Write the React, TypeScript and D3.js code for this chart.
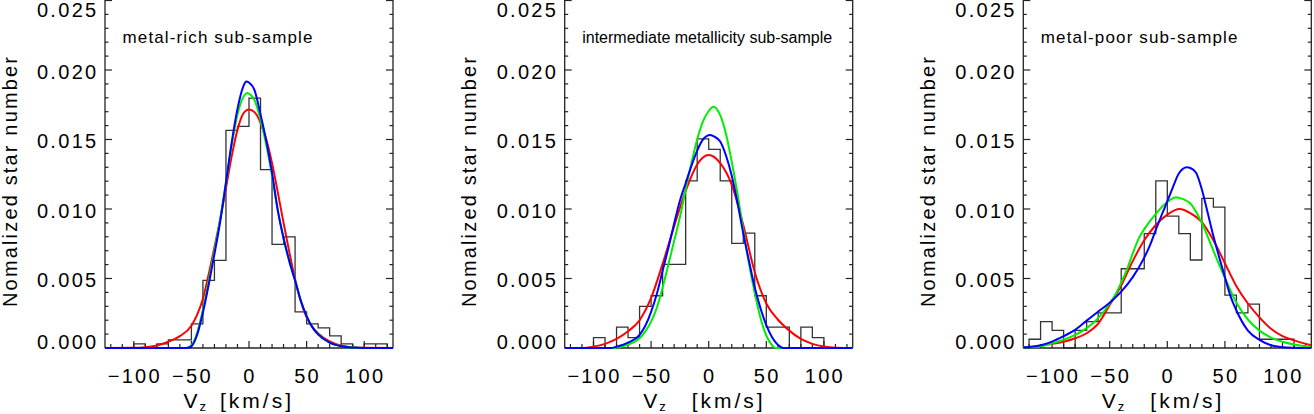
import React from 'react';
import * as d3 from 'd3';

// ---------- DATA (densities in units of 1e-3) ----------
const binWidth = 10;
const xDomain: [number, number] = [-125, 125];
const yMax = 0.025;
const xMajorTicks = [-100, -50, 0, 50, 100];
const xMinorStep = 10;
const yMajorTicks = [0, 0.005, 0.01, 0.015, 0.02, 0.025];
const yMinorStep = 0.001;

const titles = ['metal-rich sub-sample', 'intermediate metallicity sub-sample', 'metal-poor sub-sample'];
const yLabel = 'Nomalized star number';

const p1HistStart = -100;
const p1Hist = [0.29, 0, 0.29, 0.58, 0.58, 1.74, 4.87, 6.3, 15.66, 15.95, 17.97, 12.83, 7.45, 8.0, 2.6, 1.74, 1.45, 0.87, 0.29, 0, 0.29, 0.29];
const p2HistStart = -100;
const p2Hist = [0.75, 0, 1.5, 0.75, 3.0, 3.76, 6.02, 6.02, 12.03, 15.04, 14.29, 12.03, 7.52, 8.27, 3.76, 1.5, 1.5, 0, 1.5, 0.75];
const p3HistStart = -120;
const p3Hist = [0.63, 1.9, 1.27, 0, 1.27, 1.9, 2.53, 2.53, 5.7, 5.7, 8.23, 12.03, 9.49, 8.23, 6.33, 10.76, 10.13, 3.8, 2.53, 3.16, 0.63, 0.63, 0.63];

type Pt = [number, number];

const p1Red: Pt[] = [[-125, 0], [-100, 0.01], [-90, 0.05], [-80, 0.18], [-70, 0.45], [-60, 0.85], [-50, 1.6], [-45, 2.4], [-40, 3.55], [-35, 5.3], [-30, 7.25], [-25, 9.25], [-20, 11.5], [-15, 13.8], [-10, 15.7], [-5, 16.85], [0, 17.15], [5, 16.95], [10, 16.2], [15, 15.0], [20, 13.3], [25, 11.2], [30, 9.0], [35, 6.9], [40, 4.95], [45, 3.35], [50, 2.2], [55, 1.5], [60, 1.05], [70, 0.48], [80, 0.17], [90, 0.05], [100, 0.01], [125, 0]];
const p1Green: Pt[] = [[-125, 0], [-55, 0], [-50, 0.2], [-45, 1.1], [-40, 2.75], [-35, 4.8], [-30, 7.0], [-25, 9.3], [-20, 11.9], [-15, 14.6], [-10, 16.8], [-5, 18.05], [-1.5, 18.35], [0, 18.3], [5, 17.8], [10, 16.4], [15, 14.6], [20, 12.4], [25, 9.9], [30, 7.9], [35, 6.25], [40, 4.85], [45, 3.4], [50, 2.3], [55, 1.5], [60, 0.98], [70, 0.38], [80, 0.12], [90, 0.03], [100, 0], [125, 0]];
const p1Blue: Pt[] = [[-125, 0], [-54, 0], [-50, 0.12], [-45, 0.95], [-40, 2.55], [-35, 4.55], [-30, 6.75], [-25, 9.1], [-20, 11.9], [-15, 14.8], [-10, 17.2], [-5, 18.8], [-2.5, 19.18], [0, 19.1], [5, 18.5], [10, 16.8], [15, 14.9], [20, 12.6], [25, 9.9], [30, 7.9], [35, 6.25], [40, 4.85], [45, 3.4], [50, 2.3], [55, 1.5], [60, 0.98], [70, 0.38], [80, 0.12], [90, 0.03], [100, 0], [125, 0]];

const p2Red: Pt[] = [[-125, 0], [-110, 0], [-100, 0.1], [-90, 0.3], [-80, 0.65], [-70, 1.2], [-60, 2.0], [-50, 3.6], [-40, 6.05], [-30, 8.75], [-20, 11.3], [-10, 13.2], [0, 13.88], [10, 13.3], [20, 11.75], [30, 8.85], [40, 5.45], [50, 3.2], [60, 2.05], [70, 1.25], [80, 0.65], [90, 0.3], [100, 0.1], [110, 0.02], [125, 0]];
const p2Green: Pt[] = [[-125, 0], [-82, 0], [-80, 0.03], [-70, 0.25], [-60, 0.7], [-55, 1.2], [-50, 1.9], [-45, 2.9], [-40, 4.35], [-35, 6.0], [-30, 7.7], [-25, 9.4], [-20, 11.4], [-15, 13.3], [-10, 15.0], [-5, 16.3], [0, 17.05], [4.2, 17.36], [10, 16.75], [15, 15.4], [20, 13.4], [25, 11.1], [30, 8.5], [35, 6.05], [40, 3.95], [45, 2.15], [50, 0.9], [55, 0.2], [58, 0], [125, 0]];
const p2Blue: Pt[] = [[-125, 0], [-85, 0], [-80, 0.1], [-70, 0.38], [-60, 0.95], [-55, 1.6], [-50, 2.6], [-45, 3.9], [-40, 5.55], [-35, 7.2], [-30, 8.95], [-25, 10.6], [-20, 11.85], [-15, 13.1], [-10, 14.2], [-5, 15.0], [1.3, 15.32], [5, 15.2], [10, 14.85], [15, 13.85], [20, 12.4], [25, 10.45], [30, 8.25], [35, 6.25], [40, 4.35], [45, 2.85], [50, 1.65], [55, 0.78], [60, 0.24], [65, 0], [125, 0]];

const p3Red: Pt[] = [[-125, 0.05], [-110, 0.15], [-100, 0.3], [-90, 0.45], [-80, 0.7], [-70, 1.06], [-60, 1.75], [-50, 3.1], [-40, 4.5], [-30, 6.25], [-20, 7.75], [-10, 8.85], [0, 9.6], [10.7, 10.0], [20, 9.7], [30, 9.05], [40, 7.75], [50, 6.1], [60, 4.45], [70, 3.2], [80, 2.2], [90, 1.38], [100, 0.85], [110, 0.55], [125, 0.2]];
const p3Green: Pt[] = [[-125, 0.03], [-110, 0.12], [-100, 0.33], [-90, 0.6], [-80, 0.95], [-70, 1.43], [-60, 2.15], [-50, 3.2], [-45, 3.85], [-40, 4.7], [-35, 5.65], [-30, 6.8], [-25, 7.85], [-20, 8.55], [-10, 9.65], [0, 10.5], [7.9, 10.84], [10, 10.8], [20, 10.4], [30, 9.0], [40, 7.0], [50, 5.05], [60, 3.25], [70, 2.05], [80, 1.25], [90, 0.75], [100, 0.45], [110, 0.25], [125, 0.07]];
const p3Blue: Pt[] = [[-125, 0.04], [-120, 0.07], [-110, 0.2], [-100, 0.46], [-90, 0.85], [-80, 1.3], [-70, 1.97], [-60, 2.62], [-50, 3.26], [-40, 4.05], [-30, 5.1], [-20, 6.5], [-15, 7.4], [-10, 8.5], [-5, 9.55], [0, 10.55], [5, 11.6], [10, 12.55], [17, 13.0], [20, 12.95], [25, 12.6], [30, 11.4], [35, 9.75], [40, 8.05], [45, 6.55], [50, 5.1], [55, 3.7], [60, 2.7], [70, 1.25], [80, 0.58], [90, 0.2], [100, 0.06], [110, 0.02], [125, 0]];

const panelData = [
  { hist: p1Hist, histStart: p1HistStart, red: p1Red, green: p1Green, blue: p1Blue },
  { hist: p2Hist, histStart: p2HistStart, red: p2Red, green: p2Green, blue: p2Blue },
  { hist: p3Hist, histStart: p3HistStart, red: p3Red, green: p3Green, blue: p3Blue },
];

// ---------- LAYOUT ----------
const W = 1314;
const H = 414;
const PANEL_LEFT = [105, 564.7, 1023.3];
const PW = 288;
const TOP = 0.5;
const BOTTOM = 348;
const FONT = "'Liberation Sans', Arial, Helvetica, sans-serif";
const TITLE_LEN = [190, 250, 196.6];
const TITLE_SIZE = [17, 16, 17];
const XLABEL_BRACKET = [115, 127, 127];
const AXIS = '#222';

function Panel({ idx }: { idx: number }) {
  const d = panelData[idx];
  const left = PANEL_LEFT[idx];
  const right = left + PW;
  const x = d3.scaleLinear().domain(xDomain).range([left, right]);
  const y = d3.scaleLinear().domain([0, yMax]).range([BOTTOM, TOP]);
  const k = 1e-3;

  const stepPts: Pt[] = [];
  stepPts.push([d.histStart, 0]);
  d.hist.forEach((v, i) => {
    stepPts.push([d.histStart + i * binWidth, v * k]);
    stepPts.push([d.histStart + (i + 1) * binWidth, v * k]);
  });
  stepPts.push([d.histStart + d.hist.length * binWidth, 0]);
  const straight = d3.line<Pt>().x((p) => x(p[0])).y((p) => y(p[1]));
  const smooth = d3
    .line<Pt>()
    .x((p) => x(p[0]))
    .y((p) => y(p[1] * k))
    .curve(d3.curveMonotoneX);

  const yMinor = d3.range(0, yMax + 1e-9, yMinorStep);
  const xMinor = d3.range(-120, 121, xMinorStep);
  const clipId = `clip${idx}`;

  return (
    <g>
      <defs>
        <clipPath id={clipId}>
          <rect x={left} y={0} width={PW} height={BOTTOM + 1.5} />
        </clipPath>
      </defs>
      {/* title */}
      <text x={left + 17.5} y={43} fontFamily={FONT} fontSize={TITLE_SIZE[idx]} textLength={TITLE_LEN[idx]} lengthAdjust="spacing" fill="#000">
        {titles[idx]}
      </text>
      {/* histogram */}
      <path d={straight(stepPts) || ''} fill="none" stroke="#333" strokeWidth={1.3} clipPath={`url(#${clipId})`} />
      {/* frame */}
      <line x1={left} x2={left} y1={0} y2={BOTTOM} stroke={AXIS} strokeWidth={1.3} />
      <line x1={right} x2={right} y1={0} y2={BOTTOM} stroke={AXIS} strokeWidth={1.3} />
      <line x1={left} x2={right} y1={BOTTOM} y2={BOTTOM} stroke={AXIS} strokeWidth={1.3} />
      {yMinor.map((v, i) => {
        const major = i % 5 === 0;
        const len = major ? 7 : 3.5;
        return (
          <g key={'yt' + i}>
            <line x1={left} x2={left + len} y1={y(v)} y2={y(v)} stroke={AXIS} strokeWidth={1.2} />
            <line x1={right} x2={right - len} y1={y(v)} y2={y(v)} stroke={AXIS} strokeWidth={1.2} />
          </g>
        );
      })}
      {xMinor.map((v) => {
        const major = v % 50 === 0;
        const len = major ? 7 : 4;
        return <line key={'xt' + v} x1={x(v)} x2={x(v)} y1={BOTTOM} y2={BOTTOM - len} stroke={AXIS} strokeWidth={1.2} />;
      })}
      {/* curves */}
      <g clipPath={`url(#${clipId})`} fill="none" strokeWidth={2}>
        <path d={smooth(d.red) || ''} stroke="#ff0000" />
        <path d={smooth(d.green) || ''} stroke="#00ee00" />
        <path d={smooth(d.blue) || ''} stroke="#0000ff" />
      </g>
      {/* y tick labels */}
      {yMajorTicks.map((v) => {
        const base = Math.min(Math.max(y(v) + 8.5, 16.7), 348.5);
        return (
          <text key={'yl' + v} x={left - 6.5} y={base} textAnchor="end" fontFamily={FONT} fontSize={20} letterSpacing={2.3} fill="#000">
            {d3.format('.3f')(v)}
          </text>
        );
      })}
      {/* x tick labels */}
      {xMajorTicks.map((v) => (
        <text key={'xl' + v} x={x(v) + 1} y={383} textAnchor="middle" fontFamily={FONT} fontSize={20} letterSpacing={2.3} fill="#000">
          {v < 0 ? '\u2212' + Math.abs(v) : String(v)}
        </text>
      ))}
      {/* y axis label */}
      <text transform={`translate(${left - 88.5},182) rotate(-90)`} textAnchor="middle" fontFamily={FONT} fontSize={20} textLength={250} lengthAdjust="spacing" fill="#000">
        {yLabel}
      </text>
      {/* x axis label */}
      <text x={left + 78.5} y={408} fontFamily={FONT} fontSize={21} fill="#000">
        V
        <tspan fontSize={13} dx={2} dy={3}>z</tspan>
        <tspan x={left + XLABEL_BRACKET[idx]} dy={-3} letterSpacing={3}>[km/s]</tspan>
      </text>
    </g>
  );
}

export default function App() {
  return (
    <svg width={W} height={H} style={{ position: 'absolute', left: 0, top: 0, background: '#fff' }}>
      <rect width={W} height={H} fill="#fff" />
      {[0, 1, 2].map((i) => (
        <Panel key={i} idx={i} />
      ))}
    </svg>
  );
}
